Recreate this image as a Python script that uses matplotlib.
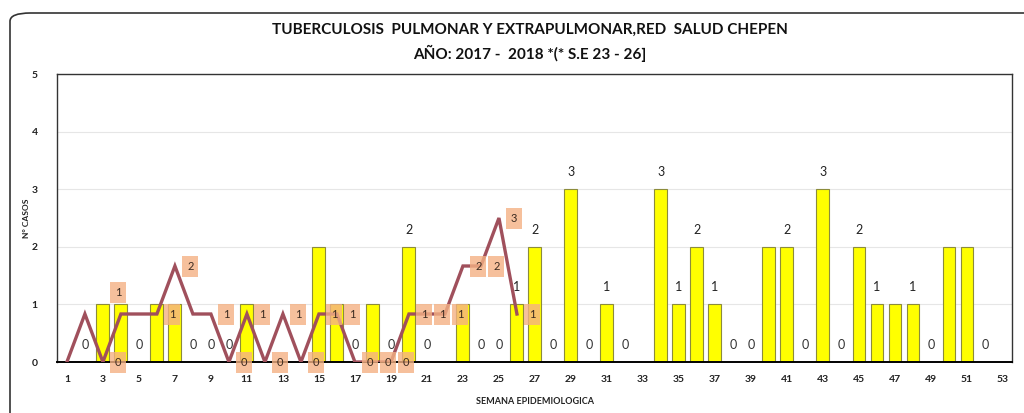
import matplotlib.pyplot as plt
from matplotlib.patches import FancyBboxPatch
import numpy as np

plt.rcParams['font.family'] = ['Lato', 'DejaVu Sans']

semanas = list(range(1, 54))

# casos 2017 (barras amarillas)
casos_2017 = [0, 0, 1, 1, 0, 1, 1, 0, 0, 0,
              1, 0, 0, 0, 2, 1, 0, 1, 0, 2,
              0, 0, 1, 0, 0, 1, 2, 0, 3, 0,
              1, 0, 0, 3, 1, 2, 1, 0, 0, 2,
              2, 0, 3, 0, 2, 1, 1, 1, 0, 2,
              2, 0, 0]
# semanas con etiqueta visible
etq_barras = [20, 26, 27, 29, 31, 34, 35, 36, 37, 41, 43, 45, 46, 48]
etq_ceros = [2, 5, 8, 9, 10, 17, 19, 21, 24, 25, 28, 30, 32, 38, 39, 42, 44, 49, 52]

# casos 2018 (linea), S.E 1 - 26
casos_2018 = [0, 1, 0, 1, 1, 1, 2, 1, 1, 0,
              1, 0, 1, 0, 1, 1, 0, 0, 0, 1,
              1, 1, 2, 2, 3, 1]
etq_linea = [3, 6, 7, 9, 10, 11, 12, 13, 14, 15, 16, 17, 18, 19,
             20, 21, 22, 23, 24, 25, 26]

fig = plt.figure(figsize=(10.24, 4.13), dpi=100)
ax = fig.add_axes([57/1024, 1 - 362/413, (1012 - 57)/1024, (362 - 74)/413])

ax.bar(semanas, casos_2017, width=0.72, color='#FFFF00',
       edgecolor='#8C8C3C', linewidth=0.8, zorder=2)

for s in etq_barras:
    ax.text(s, casos_2017[s - 1] + 0.3, str(casos_2017[s - 1]), ha='center',
            va='center', fontsize=9, color='#222222', zorder=5)
for s in etq_ceros:
    ax.text(s, 0.3, '0', ha='center', va='center', fontsize=9,
            color='#333333', zorder=5)

ax.set_xlim(0.45, 53.5)
ax.set_ylim(0, 5)
ax.set_xticks(semanas[::2])
ax.set_xticklabels([str(s) for s in semanas[::2]], fontsize=7.5,
                   fontweight='bold', color='#222222')
ax.set_yticks(range(6))
ax.set_yticklabels([str(v) for v in range(6)], fontsize=7.5,
                   fontweight='bold', color='#222222')
ax.tick_params(axis='x', length=0, pad=9)
ax.tick_params(axis='y', length=0, pad=14)
ax.grid(axis='y', color='#E6E6E6', linewidth=0.8, zorder=0)
ax.set_axisbelow(True)
for sp in ax.spines.values():
    sp.set_color('#333333')
    sp.set_linewidth(1.0)
ax.spines['bottom'].set_color('black')
ax.spines['bottom'].set_linewidth(1.4)

ax.set_xlabel('SEMANA EPIDEMIOLOGICA', fontsize=6.5, fontweight='bold',
              color='#222222', labelpad=10)
ax.set_ylabel('N° CASOS', fontsize=6, fontweight='bold', color='#222222',
              labelpad=1)

# eje secundario (oculto) para 2018
ax2 = ax.twinx()
ax2.set_ylim(0, 6)
ax2.set_yticks([])
for sp in ax2.spines.values():
    sp.set_visible(False)
ax2.plot(semanas[:len(casos_2018)], casos_2018, color='#A0505C',
         linewidth=2.4, zorder=4, solid_joinstyle='miter')

caja = dict(boxstyle='square,pad=0.45', facecolor='#F4B183',
            edgecolor='none', alpha=0.8)
for s in etq_linea:
    v = casos_2018[s - 1]
    ax2.text(s + 0.85, v, str(v), ha='center', va='center', fontsize=8,
             color='#3A2A20', zorder=6, bbox=caja)
# etiqueta de S.E 4 arriba del punto
ax2.text(3.85, 1.45, '1', ha='center', va='center', fontsize=8,
         color='#3A2A20', zorder=6, bbox=caja)

fig.text(530/1024, 1 - 30/413, 'TUBERCULOSIS  PULMONAR Y EXTRAPULMONAR,RED  SALUD CHEPEN',
         ha='center', va='center', fontsize=11, fontweight='bold', color='#111111')
fig.text(530/1024, 1 - 53/413, 'AÑO: 2017 -  2018 *(* S.E 23 - 26]',
         ha='center', va='center', fontsize=11, fontweight='bold', color='#111111')

# marco exterior redondeado
marco = FancyBboxPatch((10/1024, -0.05), 1.05, 1 - 13/413 + 0.05,
                       boxstyle='round,pad=0,rounding_size=0.02',
                       transform=fig.transFigure, facecolor='none',
                       edgecolor='#333333', linewidth=1.2)
fig.patches.append(marco)

fig.savefig('out.png', dpi=100)
